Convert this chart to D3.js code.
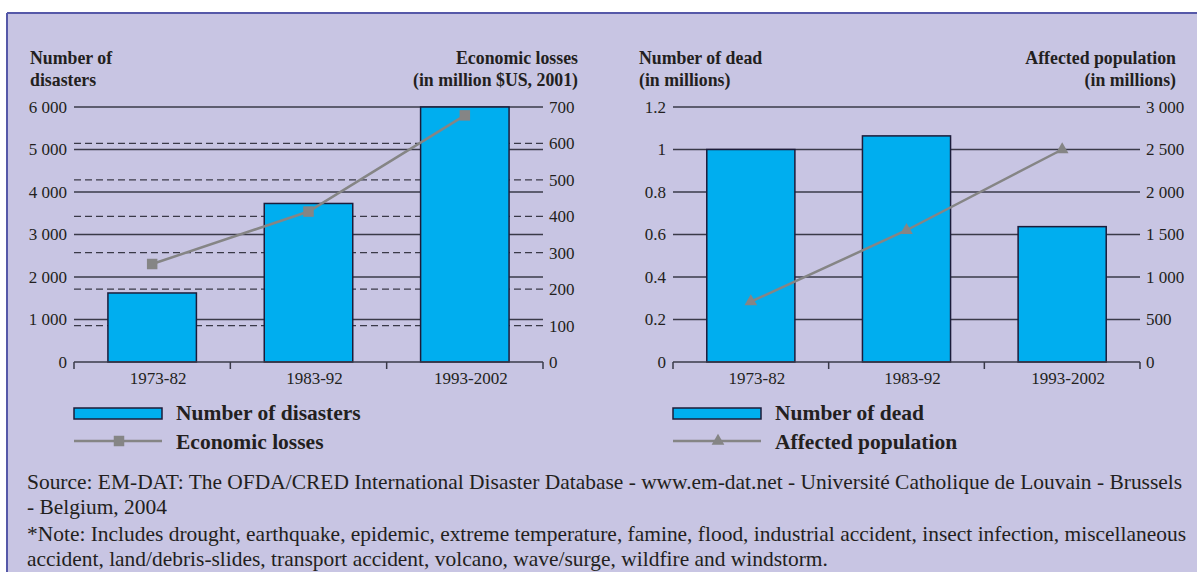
<!DOCTYPE html>
<html><head><meta charset="utf-8">
<script src="https://cdn.jsdelivr.net/npm/d3@7"></script>
<style>
html,body{margin:0;padding:0;background:#fff;}
svg{display:block;}
text{font-family:"Liberation Serif","Times New Roman",serif;}
</style></head>
<body><svg id="c" width="1197" height="572"></svg>
<script>
// ---- data ----
const categories = ["1973-82", "1983-92", "1993-2002"];
const disasters = [1624, 3730, 6000];
const economicLosses = [269, 413, 677];
const dead = [1.0, 1.064, 0.637];
const affected = [710, 1550, 2500];

const disTicks = [0, 1000, 2000, 3000, 4000, 5000, 6000];
const lossTicks = [0, 100, 200, 300, 400, 500, 600, 700];
const deadTicks = [0, 0.2, 0.4, 0.6, 0.8, 1, 1.2];
const affTicks = [0, 500, 1000, 1500, 2000, 2500, 3000];

const leftTitleL = ["Number of", "disasters"];
const leftTitleR = ["Economic losses", "(in million $US, 2001)"];
const rightTitleL = ["Number of dead", "(in millions)"];
const rightTitleR = ["Affected population", "(in millions)"];

const legendLeft = ["Number of disasters", "Economic losses"];
const legendRight = ["Number of dead", "Affected population"];

const sourceLines = [
  "Source: EM-DAT: The OFDA/CRED International Disaster Database - www.em-dat.net - Université Catholique de Louvain - Brussels",
  "- Belgium, 2004",
  "*Note: Includes drought, earthquake, epidemic, extreme temperature, famine, flood, industrial accident, insect infection, miscellaneous",
  "accident, land/debris-slides, transport accident, volcano, wave/surge, wildfire and windstorm."
];

// ---- style ----
const BG = "#c8c5e3", BORDER = "#5558a8", BAR = "#00aeef", BAR_STROKE = "#1c1c3a",
      GRID = "#3a3a48", LINE = "#858585", TXT = "#231f20";

const loc = d3.formatLocale({decimal: ".", thousands: " ", grouping: [3], currency: ["", ""]});
const fmtInt = loc.format(",");
const fmtDec = d => String(d);

const svg = d3.select("#c");
svg.append("rect").attr("x", 7).attr("y", 13).attr("width", 1200).attr("height", 570).attr("fill", BG);
svg.append("line").attr("x1", 7).attr("x2", 1197).attr("y1", 13).attr("y2", 13).attr("stroke", BORDER).attr("stroke-width", 2);
svg.append("line").attr("x1", 7).attr("x2", 7).attr("y1", 13).attr("y2", 572).attr("stroke", BORDER).attr("stroke-width", 2);

const yTop = 107, yBot = 362;

function markerPath(type) {
  return d3.symbol().type(type).size(type === d3.symbolSquare ? 110 : 70)();
}

function panel(o) {
  const g = svg.append("g");
  const x = d3.scaleBand().domain(categories).range([o.x0, o.x1]).paddingInner(0.434).paddingOuter(0.217);
  const step = x.step();
  const yL = d3.scaleLinear().domain([0, o.lTicks[o.lTicks.length - 1]]).range([yBot, yTop]);
  const yR = d3.scaleLinear().domain([0, o.rTicks[o.rTicks.length - 1]]).range([yBot, yTop]);

  if (o.dashed) {
    g.selectAll(".dg").data(o.rTicks.filter(d => d > 0 && d < o.rTicks[o.rTicks.length - 1])).enter()
      .append("line").attr("x1", o.x0).attr("x2", o.x1)
      .attr("y1", d => yR(d)).attr("y2", d => yR(d))
      .attr("stroke", GRID).attr("stroke-width", 1.3).attr("stroke-dasharray", "7,4");
  }
  g.selectAll(".sg").data(o.lTicks.filter(d => d > 0)).enter()
    .append("line").attr("x1", o.x0).attr("x2", o.x1)
    .attr("y1", d => yL(d)).attr("y2", d => yL(d))
    .attr("stroke", GRID).attr("stroke-width", 1.5);

  g.selectAll(".bar").data(o.bars).enter().append("rect")
    .attr("x", (d, i) => x(categories[i])).attr("width", x.bandwidth())
    .attr("y", d => yL(d)).attr("height", d => yBot - yL(d))
    .attr("fill", BAR).attr("stroke", BAR_STROKE).attr("stroke-width", 1.5);

  g.append("line").attr("x1", o.x0).attr("x2", o.x1).attr("y1", yBot).attr("y2", yBot)
    .attr("stroke", GRID).attr("stroke-width", 1.5);
  const bounds = categories.map(c => x(c) - step * 0.217).concat([o.x1]);
  g.selectAll(".bt").data(bounds).enter().append("line")
    .attr("x1", d => d).attr("x2", d => d).attr("y1", yBot).attr("y2", yBot + 7)
    .attr("stroke", GRID).attr("stroke-width", 1.5);

  g.selectAll(".lt").data(o.lTicks).enter().append("text")
    .attr("x", o.x0 - 7).attr("y", d => yL(d)).attr("dy", "0.35em")
    .attr("text-anchor", "end").attr("font-size", 17).attr("fill", TXT)
    .text(o.lFmt);
  g.selectAll(".rt").data(o.rTicks).enter().append("text")
    .attr("x", o.x1 + 6).attr("y", d => yR(d)).attr("dy", "0.35em")
    .attr("text-anchor", "start").attr("font-size", 17).attr("fill", TXT)
    .text(o.rFmt);

  g.selectAll(".cl").data(categories).enter().append("text")
    .attr("x", d => x(d) + x.bandwidth() / 2 + 6).attr("y", 384)
    .attr("text-anchor", "middle").attr("font-size", 17).attr("fill", TXT).text(d => d);

  const pts = o.line.map((v, i) => [x(categories[i]) + x.bandwidth() / 2, yR(v)]);
  g.append("path").attr("d", d3.line()(pts)).attr("fill", "none").attr("stroke", LINE).attr("stroke-width", 2.5);
  g.selectAll(".mk").data(pts).enter().append("path")
    .attr("transform", d => `translate(${d[0]},${d[1]})`)
    .attr("d", markerPath(o.marker))
    .attr("fill", LINE);

  o.titleL.forEach((t, i) => g.append("text").attr("x", o.tlx).attr("y", 64 + i * 22)
    .attr("font-size", 17.8).attr("font-weight", "bold").attr("fill", TXT).text(t));
  o.titleR.forEach((t, i) => g.append("text").attr("x", o.trx).attr("y", 64 + i * 22)
    .attr("text-anchor", "end").attr("font-size", 17.8).attr("font-weight", "bold").attr("fill", TXT).text(t));

  const lx = o.x0;
  g.append("rect").attr("x", lx).attr("y", 408).attr("width", 88).attr("height", 11)
    .attr("fill", BAR).attr("stroke", BAR_STROKE).attr("stroke-width", 1.5);
  g.append("line").attr("x1", lx).attr("x2", lx + 88).attr("y1", 441).attr("y2", 441)
    .attr("stroke", LINE).attr("stroke-width", 2.5);
  g.append("path").attr("transform", `translate(${lx + 45},${441})`)
    .attr("d", markerPath(o.marker))
    .attr("fill", LINE);
  o.legend.forEach((t, i) => g.append("text").attr("x", lx + 102).attr("y", 420 + i * 29)
    .attr("font-size", 21.5).attr("font-weight", "bold").attr("fill", TXT).text(t));
}

panel({x0: 74, x1: 543, bars: disasters, line: economicLosses, lTicks: disTicks, rTicks: lossTicks,
  lFmt: fmtInt, rFmt: fmtInt, dashed: true, marker: d3.symbolSquare,
  titleL: leftTitleL, titleR: leftTitleR, tlx: 30, trx: 578, legend: legendLeft});
panel({x0: 673, x1: 1140, bars: dead, line: affected, lTicks: deadTicks, rTicks: affTicks,
  lFmt: fmtDec, rFmt: fmtInt, dashed: false, marker: d3.symbolTriangle,
  titleL: rightTitleL, titleR: rightTitleR, tlx: 639, trx: 1176, legend: legendRight});

const src = svg.append("g");
const ys = [489, 514, 541, 566];
const st = src.selectAll("text").data(sourceLines).enter().append("text")
  .attr("x", 27).attr("y", (d, i) => ys[i]).attr("font-size", 19).attr("fill", TXT).text(d => d);
const w0 = st.nodes()[0].getComputedTextLength();
st.attr("font-size", 19 * 1156 / w0);
</script></body></html>
